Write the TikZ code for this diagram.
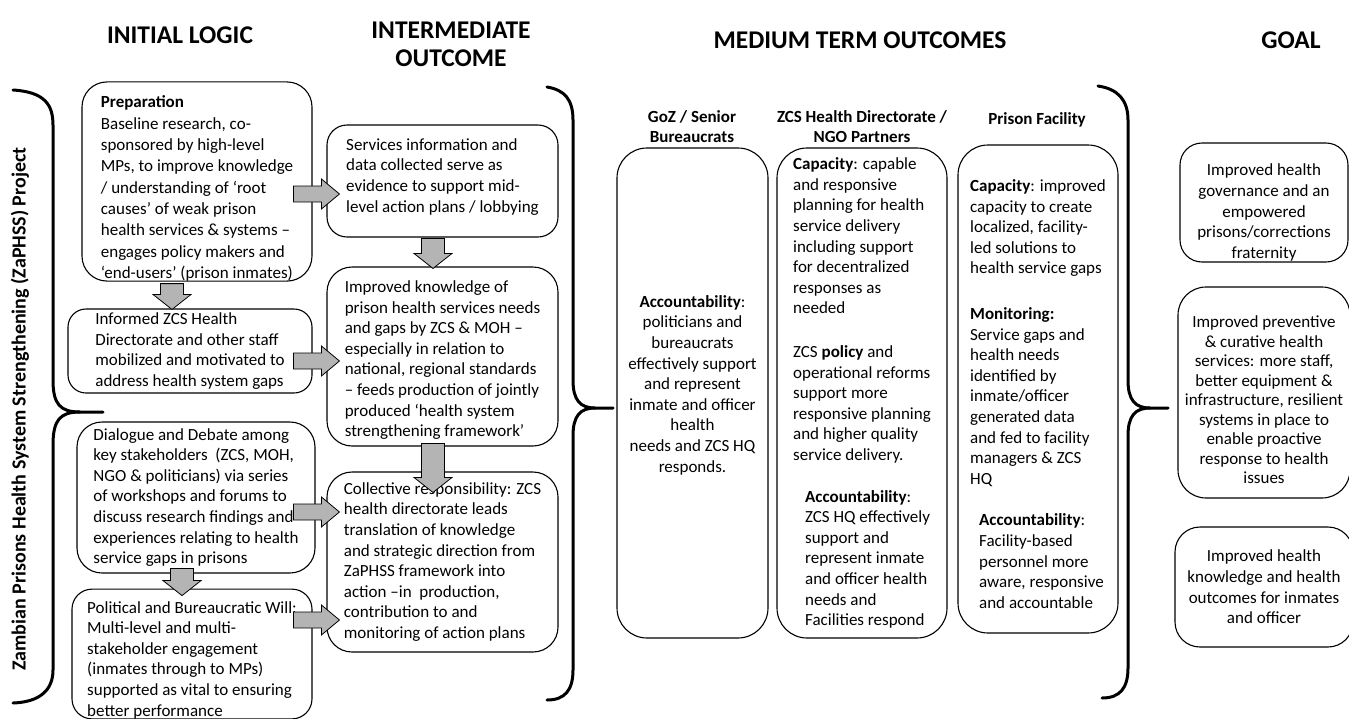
\documentclass[tikz,border=0pt]{standalone}
\usepackage{fontspec}
\setmainfont{Carlito}
\usetikzlibrary{calc}
\definecolor{arrowgray}{RGB}{180,180,180}
\newcommand{\topgap}[1]{\rule{0pt}{#1}}
\newcommand{\botgap}[1]{\rule[-#1]{0pt}{0pt}}

\begin{document}
\begin{tikzpicture}[x=1pt, y=-1pt,
    box/.style={draw, line width=1.1pt, rounded corners=#1, inner sep=0pt, align=left,
      font=\fontsize{17}{20.6}\selectfont},
    box/.default=22pt,
    head/.style={font=\fontsize{25.5}{28}\selectfont\bfseries, align=center},
    subhead/.style={font=\fontsize{17}{20}\selectfont\bfseries, align=center},
    brace/.style={line width=3pt, line cap=round},
    rblock/.style={fill=arrowgray, draw=black, line width=0.8pt, to path={
      let \p1=(\tikztostart), \p2=(\tikztotarget) in
      (\x1,\y1+8pt) -- (\x2-18pt,\y1+8pt) -- (\x2-18pt,\y1+15pt) -- (\x2,\y1)
      -- (\x2-18pt,\y1-15pt) -- (\x2-18pt,\y1-8pt) -- (\x1,\y1-8pt) -- cycle}},
    dblock/.style={fill=arrowgray, draw=black, line width=0.8pt, to path={
      let \p1=(\tikztostart), \p2=(\tikztotarget) in
      (\x1-11.5pt,\y1) -- (\x1-11.5pt,\y2+15pt) -- (\x1-19pt,\y2+15pt) -- (\x1,\y2)
      -- (\x1+19pt,\y2+15pt) -- (\x1+11.5pt,\y2+15pt) -- (\x1+11.5pt,\y1) -- cycle}}]

	% Frame
	\useasboundingbox (0,0) rectangle (1349,718);
	\clip (0,0) rectangle (1349,718);

	% Column titles
	\node[head] (tinit) at (180,35) {INITIAL LOGIC};
	\node[head] (tinter) at (451,44) {INTERMEDIATE\\OUTCOME};
	\node[head] (tmed) at (860,40) {MEDIUM TERM OUTCOMES};
	\node[head] (tgoal) at (1291,40) {GOAL};

	% Project label
	\node[font=\fontsize{20}{24}\selectfont\bfseries, rotate=90] (project) at (20,409)
		{Zambian Prisons Health System Strengthening (ZaPHSS) Project};

	% Initial logic
	\node[box=25pt, minimum width=230pt, minimum height=197pt,
		font=\fontsize{17}{21.3}\selectfont] (prep) at (197,181.5)
		{\topgap{26pt}\textbf{Preparation}\\Baseline research, co-\\sponsored by high-level\\MPs, to improve knowledge\\/ understanding of ‘root\\causes’ of weak prison\\health services \& systems –\\engages policy makers and\\‘end-users’ (prison inmates)};
	\node[box=18pt, minimum width=244pt, minimum height=84pt] (informed) at (190,351)
		{Informed ZCS Health\\Directorate and other staff\\mobilized and motivated to\\address health system gaps};
	\node[box=25pt, minimum width=238pt, minimum height=151pt] (dialogue) at (196,497.5)
		{Dialogue and Debate among\\key stakeholders~ (ZCS, MOH,\\NGO \& politicians) via series\\of workshops and forums to\\discuss research findings and\\experiences relating to health\\service gaps in prisons};
	\node[box=20pt, minimum width=240pt, minimum height=126pt] (political) at (192,654)
		{\topgap{24pt}Political and Bureaucratic Will:\\Multi-level and multi-\\stakeholder engagement\\(inmates through to MPs)\\supported as vital to ensuring\\better performance};

	% Intermediate outcome
	\node[box=20pt, minimum width=231pt, minimum height=112pt] (services) at (442.5,181)
		{Services information and\\data collected serve as\\evidence to support mid-\\level action plans / lobbying\botgap{11.5pt}};
	\node[box=25pt, minimum width=231pt, minimum height=179pt] (knowledge) at (442.5,356.5)
		{\topgap{19pt}Improved knowledge of\\prison health services needs\\and gaps by ZCS \& MOH –\\especially in relation to\\national, regional standards\\– feeds production of jointly\\produced ‘health system\\strengthening framework’};
	\node[box=25pt, minimum width=231pt, minimum height=180pt] (collective) at (442.5,562)
		{Collective responsibility: ZCS\\health directorate leads\\translation of knowledge\\and strategic direction from\\ZaPHSS framework into\\action –in~ production,\\contribution to and\\monitoring of action plans};

	% Medium term outcomes
	\node[subhead] (hgoz) at (692,127) {GoZ / Senior\\Bureaucrats};
	\node[subhead] (hzcs) at (862,127) {ZCS Health Directorate /\\NGO Partners};
	\node[subhead] (hfac) at (1037,120) {Prison Facility};

	\node[box=30pt, align=center, minimum width=151pt, minimum height=490pt] (goz) at (692.5,393)
		{\textbf{Accountability}:\\politicians and\\bureaucrats\\effectively support\\and represent\\inmate and officer\\health\\needs and ZCS HQ\\responds.\botgap{18.5pt}};
	\node[box=30pt, minimum width=170pt, minimum height=490pt] (zcs) at (862,393)
		{\textbf{Capacity}: capable\\and responsive\\planning for health\\service delivery\\including support\\for decentralized\\responses as\\needed\\[23pt]ZCS \textbf{policy} and\\operational reforms\\support more\\responsive planning\\and higher quality\\service delivery.\\[21pt]\hspace*{12pt}\textbf{Accountability}:\\\hspace*{12pt}ZCS HQ effectively\\\hspace*{12pt}support and\\\hspace*{12pt}represent inmate\\\hspace*{12pt}and officer health\\\hspace*{12pt}needs and\\\hspace*{12pt}Facilities respond};
	\node[box=30pt, minimum width=160pt, minimum height=488pt] (facility) at (1038,389)
		{\topgap{22pt}\textbf{Capacity}: improved\\capacity to create\\localized, facility-\\led solutions to\\health service gaps\\[25pt]\textbf{Monitoring:}\\Service gaps and\\health needs\\identified by\\inmate/officer\\generated data\\and fed to facility\\managers \& ZCS\\HQ\\[21pt]\hspace*{9pt}\textbf{Accountability}:\\\hspace*{9pt}Facility-based\\\hspace*{9pt}personnel more\\\hspace*{9pt}aware, responsive\\\hspace*{9pt}and accountable};

	% Goal
	\node[box=22pt, align=center, minimum width=168pt, minimum height=119pt] (goal1) at (1264,202.5)
		{\topgap{32pt}Improved health\\governance and an\\empowered\\prisons/corrections\\fraternity};
	\node[box=28pt, align=center, minimum width=172pt, minimum height=211pt,
		font=\fontsize{17}{19.5}\selectfont] (goal2) at (1264,392.5)
		{\topgap{27pt}Improved preventive\\\& curative health\\services: more staff,\\better equipment \&\\infrastructure, resilient\\systems in place to\\enable proactive\\response to health\\issues};
	\node[box=25pt, align=center, minimum width=178pt, minimum height=120pt] (goal3) at (1264,587)
		{Improved health\\knowledge and health\\outcomes for inmates\\and officer};

	% Block arrows
	\draw[rblock] ([xshift=-19pt,yshift=-12.5pt]prep.east) to ([xshift=13pt]services.west);
	\draw[rblock] ([xshift=-19pt,yshift=-10pt]informed.east) to ([xshift=13pt]knowledge.west);
	\draw[rblock] ([xshift=-22pt,yshift=-14.5pt]dialogue.east) to ([xshift=13pt]collective.west);
	\draw[rblock] ([xshift=-19pt,yshift=34pt]political.east) to ([xshift=13pt]collective.west);
	\draw[dblock] ([xshift=-25pt,yshift=-2pt]prep.south) to ([yshift=-1pt]informed.north);
	\draw[dblock] ([xshift=-14pt,yshift=5pt]dialogue.south) to ([yshift=-7pt]political.north);
	\draw[dblock] ([xshift=-9.5pt,yshift=-1pt]services.south) to ([yshift=-2pt]knowledge.north);
	\draw[dblock] ([xshift=-9.5pt,yshift=3pt]knowledge.south) to ([yshift=-21pt]collective.north);

	% Braces
	\draw[brace] (13,90) .. controls (45,92) and (53,105) .. (53,125) -- (53,380)
		.. controls (53,404) and (60,412) .. (80,412) -- (103,412);
	\draw[brace] (80,412) .. controls (60,412) and (53,420) .. (53,445) -- (53,670)
		.. controls (53,690) and (40,702) .. (13,703);
	\draw[brace] (547,87) .. controls (565,90) and (573,100) .. (573,120) -- (573,380)
		.. controls (573,400) and (580,408) .. (595,408) -- (613,408);
	\draw[brace] (595,408) .. controls (580,408) and (573,416) .. (573,436) -- (573,670)
		.. controls (573,690) and (565,700) .. (547,700);
	\draw[brace] (1098,86) .. controls (1118,89) and (1128,100) .. (1128,120) -- (1128,380)
		.. controls (1128,400) and (1135,408) .. (1150,408) -- (1168,408);
	\draw[brace] (1150,408) .. controls (1135,408) and (1128,416) .. (1128,436) -- (1128,668)
		.. controls (1128,688) and (1120,698) .. (1102,698);

\end{tikzpicture}
\end{document}
